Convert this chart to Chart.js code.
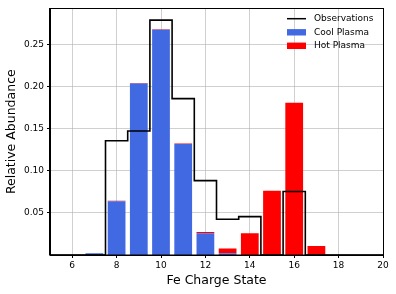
<!DOCTYPE html>
<html>
<head>
<meta charset="utf-8">
<script src="https://cdn.jsdelivr.net/npm/chart.js@4/dist/chart.umd.min.js"></script>
<style>
  html, body { margin: 0; padding: 0; background: #fff; }
  #wrap { width: 396px; height: 294px; }
</style>
</head>
<body>
<div id="wrap"><canvas id="grafico" width="396" height="294"></canvas></div>
<script>
// Charge states of Fe (x axis)
var chargeStates = [5, 6, 7, 8, 9, 10, 11, 12, 13, 14, 15, 16, 17, 18, 19, 20];
// Observed abundances (step line)
var observations = [0, 0, 0, 0.136, 0.1476, 0.2794, 0.186, 0.0885, 0.0426, 0.0457, 0, 0.0755, 0, 0, 0, 0];
// Model components (stacked bars)
var coolPlasma = [0, 0, 0.002, 0.064, 0.204, 0.268, 0.132, 0.026, 0.002, 0, 0, 0, 0, 0, 0, 0];
var hotPlasma = [0, 0, 0, 0.0006, 0.0006, 0.0006, 0.0006, 0.0015, 0.0057, 0.026, 0.0765, 0.181, 0.0108, 0, 0, 0];
// Tick labels
var xTicks = [6, 8, 10, 12, 14, 16, 18, 20];
var yTicks = [0.05, 0.10, 0.15, 0.20, 0.25];

var fuente = 'DejaVu Sans';

function puntos(valores) {
    return chargeStates.map(function (x, i) { return { x: x, y: valores[i] }; });
}

// Marco completo y leyenda dentro del area del grafico
var marcoLeyenda = {
    id: 'marcoLeyenda',
    afterDraw: function (chart) {
        var ctx = chart.ctx;
        var a = chart.chartArea;
        ctx.save();
        ctx.strokeStyle = '#000';
        ctx.lineWidth = 1;
        ctx.strokeRect(Math.round(a.left) - 0.5, Math.round(a.top) + 0.5,
            Math.round(a.right - a.left) + 1, Math.round(a.bottom - a.top) - 0.5);

        var x0 = 287, x1 = 306, tx = 314;
        var filas = [18.7, 32.3, 45.8];
        ctx.font = '9px "' + fuente + '"';
        ctx.textBaseline = 'middle';
        ctx.fillStyle = '#000';
        chart.data.datasets.forEach(function (ds, i) {
            var y = filas[i];
            if (ds.type === 'line') {
                ctx.strokeStyle = ds.borderColor;
                ctx.lineWidth = 1.5;
                ctx.beginPath();
                ctx.moveTo(x0, y);
                ctx.lineTo(x1, y);
                ctx.stroke();
            } else {
                ctx.fillStyle = ds.backgroundColor;
                ctx.fillRect(x0, y - 3.2, x1 - x0, 6.4);
            }
            ctx.fillStyle = '#000';
            ctx.fillText(ds.label, tx, y);
        });
        ctx.restore();
    }
};

var canvas = document.getElementById('grafico');

new Chart(canvas, {
    type: 'bar',
    data: {
        datasets: [
            {
                type: 'line',
                label: 'Observations',
                data: puntos(observations),
                borderColor: '#000',
                borderWidth: 1.6,
                pointRadius: 0,
                stepped: 'middle',
                fill: false,
                stack: 'obs'
            },
            {
                label: 'Cool Plasma',
                data: puntos(coolPlasma),
                backgroundColor: '#4169E1',
                stack: 'plasma'
            },
            {
                label: 'Hot Plasma',
                data: puntos(hotPlasma),
                backgroundColor: '#FF0000',
                stack: 'plasma'
            }
        ]
    },
    options: {
        responsive: false,
        animation: false,
        devicePixelRatio: 1,
        layout: { padding: { top: 6, right: 13, left: 0, bottom: 0 } },
        datasets: {
            bar: { barPercentage: 0.8, categoryPercentage: 1.0 }
        },
        plugins: {
            legend: { display: false },
            tooltip: { enabled: false }
        },
        scales: {
            x: {
                type: 'linear',
                min: 5,
                max: 20,
                offset: false,
                stacked: true,
                z: 1,
                afterBuildTicks: function (s) { s.ticks = xTicks.map(function (v) { return { value: v }; }); },
                afterFit: function (s) { s.height = 39; },
                grid: { offset: false, color: 'rgba(176,176,176,0.6)', tickColor: '#000', tickLength: 3, lineWidth: 1 },
                border: { color: '#000', width: 1 },
                ticks: { color: '#000', padding: 2, maxRotation: 0, font: { family: fuente, size: 9 } },
                title: {
                    display: true,
                    text: 'Fe Charge State',
                    color: '#000',
                    font: { family: fuente, size: 12.5 },
                    padding: { top: 0, bottom: 6 }
                }
            },
            y: {
                min: 0,
                max: 0.2934,
                stacked: true,
                z: 1,
                afterBuildTicks: function (s) { s.ticks = yTicks.map(function (v) { return { value: v }; }); },
                afterFit: function (s) { s.width = 50; },
                grid: { color: 'rgba(176,176,176,0.6)', tickColor: '#000', tickLength: 3, lineWidth: 1 },
                border: { color: '#000', width: 1 },
                ticks: {
                    color: '#000',
                    padding: 3,
                    font: { family: fuente, size: 9 },
                    callback: function (v) { return Number(v).toFixed(2); }
                },
                title: {
                    display: true,
                    text: 'Relative Abundance',
                    color: '#000',
                    font: { family: fuente, size: 12.5 },
                    padding: { top: 4, bottom: 0 }
                }
            }
        }
    },
    plugins: [marcoLeyenda]
});
</script>
</body>
</html>
